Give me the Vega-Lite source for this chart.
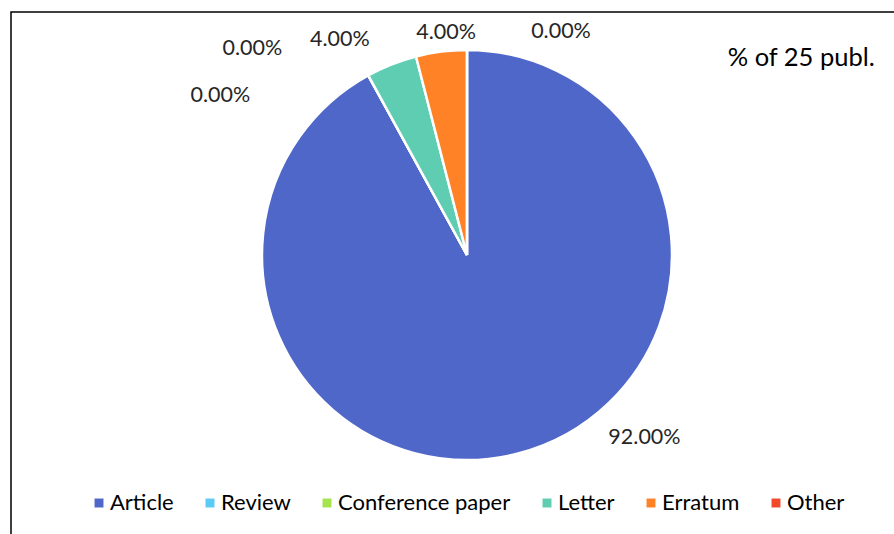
{
  "$schema": "https://vega.github.io/schema/vega-lite/v6.json",
  "width": 883,
  "height": 522,
  "autosize": "none",
  "padding": {"left": 11, "top": 12, "right": 0, "bottom": 0},
  "background": "white",
  "config": {"view": {"stroke": null}, "font": "Lato"},
  "title": {"text": "% of 25 publ.", "anchor": "end", "orient": "top", "offset": -60, "dx": -28, "fontSize": 25.5, "fontWeight": "normal", "color": "black", "font": "Lato"},
  "datasets": {
    "pub": [
      {"type": "Article", "k": 1, "pct": 0.92},
      {"type": "Review", "k": 2, "pct": 0},
      {"type": "Conference paper", "k": 3, "pct": 0},
      {"type": "Letter", "k": 4, "pct": 0.04},
      {"type": "Erratum", "k": 5, "pct": 0.04},
      {"type": "Other", "k": 6, "pct": 0}
    ],
    "frame": [{"name": "frame"}]
  },
  "layer": [
    {"data": {"name": "frame"},
     "mark": {"type": "rect", "fill": "transparent", "stroke": "black", "strokeWidth": 1.5,
              "x": 0, "y": 0, "x2": {"expr": "width+8"}, "y2": {"expr": "height+8"}},
     "encoding": {}},
    {"data": {"name": "pub"},
     "mark": {"type": "arc", "outerRadius": 205, "stroke": "white", "strokeWidth": 2.5,
              "x": {"expr": "width/2+14.5"}, "y": {"expr": "height/2-18"}},
     "encoding": {
       "theta": {"field": "pct", "type": "quantitative", "stack": true},
       "order": {"field": "k", "type": "quantitative", "sort": "ascending"},
       "color": {
         "field": "type", "type": "nominal",
         "sort": ["Article", "Review", "Conference paper", "Letter", "Erratum", "Other"],
         "scale": {"domain": ["Article", "Review", "Conference paper", "Letter", "Erratum", "Other"],
                   "range": ["#4F67C9", "#5BCBF5", "#A5E34F", "#5ECDB1", "#FF8227", "#F2492A"]},
         "legend": {"title": null, "orient": "none", "legendX": 77, "legendY": 480, "direction": "horizontal", "columns": 6,
                    "symbolType": "square", "symbolSize": 80, "symbolStrokeWidth": 0, "labelFontSize": 22, "labelFont": "Lato",
                    "labelColor": "black", "labelOffset": 0, "labelLimit": 400, "columnPadding": 25}
       }
     }},
    {"data": {"name": "pub"},
     "mark": {"type": "text", "radius": 215, "fontSize": 21.5, "font": "Lato", "baseline": "middle", "align": "center", "color": "#262626",
              "x": {"expr": "width/2+14.5"}, "y": {"expr": "height/2-18"},
              "dx": {"expr": "datum.type=='Article'?124:datum.type=='Review'?-143:datum.type=='Conference paper'?-111:datum.type=='Letter'?-48:datum.type=='Erratum'?6:94"},
              "dy": {"expr": "datum.type=='Article'?-25:datum.type=='Review'?29:datum.type=='Conference paper'?-18:datum.type=='Letter'?-15:datum.type=='Erratum'?-9:-8"}},
     "encoding": {
       "theta": {"field": "pct", "type": "quantitative", "stack": true},
       "order": {"field": "k", "type": "quantitative", "sort": "ascending"},
       "detail": {"field": "type", "type": "nominal"},
       "text": {"field": "pct", "type": "quantitative", "format": ".2%"}
     }}
  ]
}
